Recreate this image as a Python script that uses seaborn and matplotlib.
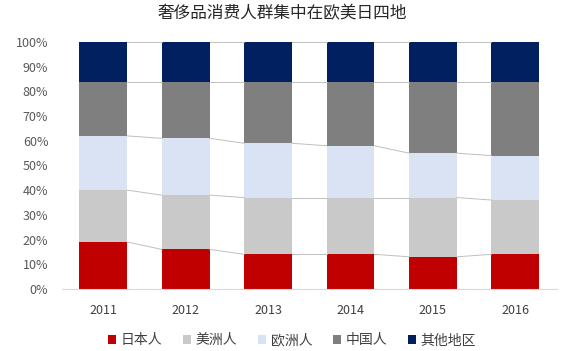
import matplotlib
matplotlib.use("Agg")
from matplotlib import pyplot as plt
import seaborn as sns
import pandas as pd
import numpy as np

years = ["2011", "2012", "2013", "2014", "2015", "2016"]
series = ["日本人", "美洲人", "欧洲人", "中国人", "其他地区"]
japan = [19, 16, 14, 14, 13, 14]
america = [21, 22, 23, 23, 24, 22]
europe = [22, 23, 22, 21, 18, 18]
china = [22, 23, 25, 26, 29, 30]
other = [16, 16, 16, 16, 16, 16]
colors = ["#c00000", "#c9c9c9", "#dae3f3", "#7f7f7f", "#002060"]

sns.set_style("white")
plt.rcParams['font.family'] = ['Noto Sans CJK SC', 'DejaVu Sans']

vals = np.array([japan, america, europe, china, other], dtype=float)
cum = vals.cumsum(axis=0)

fig, ax = plt.subplots(figsize=(5.65, 3.51), dpi=100)
width = 0.58

# draw from top down so each stack is the cumulative value
for k in range(len(series) - 1, -1, -1):
    df = pd.DataFrame({"year": years, "val": cum[k]})
    sns.barplot(data=df, x="year", y="val", color=colors[k], width=width,
                saturation=1, ax=ax, label=series[k], linewidth=0)

# connector lines between bars
for k in range(len(series)):
    for i in range(len(years) - 1):
        ax.plot([i + width / 2, i + 1 - width / 2], [cum[k][i], cum[k][i + 1]],
                color="#bfbfbf", lw=0.7, zorder=1)

ax.set_ylim(0, 100)
ax.set_xlim(-0.5, 5.5)
ax.set_yticks(range(0, 101, 10))
ax.set_yticklabels([f"{t}%" for t in range(0, 101, 10)])
ax.set_xlabel("")
ax.set_ylabel("")
ax.tick_params(axis="y", length=0, labelsize=9, colors="#595959", pad=10)
ax.tick_params(axis="x", length=0, labelsize=9, colors="#404040", pad=11)
for s in ["top", "right", "left"]:
    ax.spines[s].set_visible(False)
ax.spines["bottom"].set_color("#d9d9d9")
fig.suptitle("奢侈品消费人群集中在欧美日四地", fontsize=12, color="#262626", x=0.5, y=0.985)

handles, labels = ax.get_legend_handles_labels()
order = [labels.index(s) for s in series]
ax.legend([handles[i] for i in order], [labels[i] for i in order],
          loc="upper center", bbox_to_anchor=(0.465, -0.13), ncol=5, frameon=False,
          fontsize=10, handlelength=0.6, handleheight=0.6, handletextpad=0.3,
          columnspacing=1.5, labelcolor="#404040")

plt.subplots_adjust(left=0.11, right=0.985, top=0.88, bottom=0.177)
plt.savefig("out.png", dpi=100)
